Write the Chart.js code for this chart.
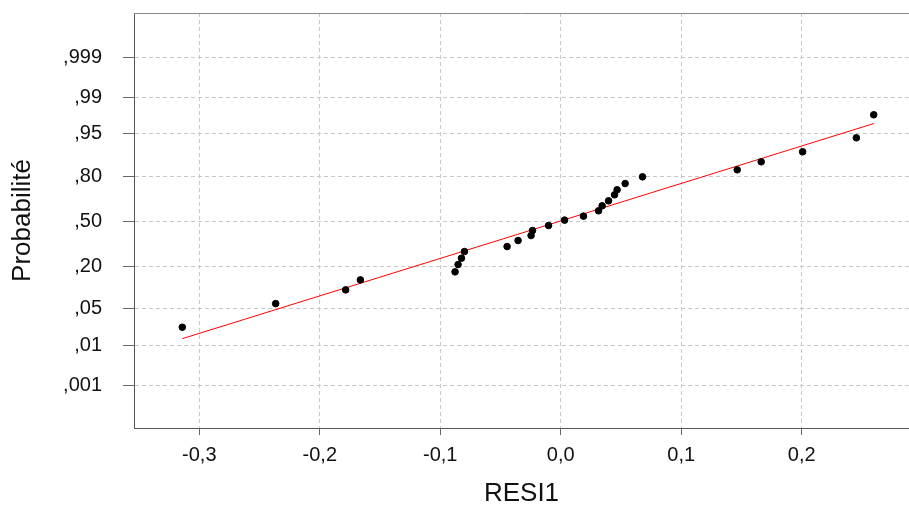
<!DOCTYPE html>
<html>
<head>
<meta charset="utf-8">
<script src="https://cdn.jsdelivr.net/npm/chart.js@4"></script>
<style>
  html, body { margin: 0; padding: 0; background: #fff; }
  #wrap { width: 909px; height: 505px; }
</style>
</head>
<body>
<div id="wrap"><canvas id="probPlot" width="909" height="505"></canvas></div>
<script>
// residuals (x) and their normal scores (y, in z units)
const resi = [-0.3141, -0.2366, -0.1785, -0.1663, -0.0877, -0.0852, -0.0824, -0.0799, -0.0445,
  -0.0354, -0.0246, -0.0234, -0.0101, 0.0032, 0.0189, 0.0314, 0.0344, 0.0397, 0.0447,
  0.0468, 0.0535, 0.0679, 0.1465, 0.1664, 0.2008, 0.2454, 0.2598];
const score = [-1.991, -1.547, -1.289, -1.101, -0.950, -0.813, -0.693, -0.568, -0.474,
  -0.361, -0.267, -0.173, -0.079, 0.023, 0.098, 0.198, 0.292, 0.386, 0.499,
  0.593, 0.711, 0.837, 0.969, 1.120, 1.308, 1.571, 2.004];

// fitted reference line
const fitX = [-0.3141, 0.2600];
const fitZ = [-2.206, 1.840];

// probability axis: labels and their z positions
const probLabels = [",001", ",01", ",05", ",20", ",50", ",80", ",95", ",99", ",999"];
const probZ = [-3.090, -2.326, -1.645, -0.8416, 0, 0.8416, 1.645, 2.326, 3.090];

const xTicks = [-0.3, -0.2, -0.1, 0.0, 0.1, 0.2];

const font = "'Liberation Sans', Arial, sans-serif";

// top edge of the frame
const frameTop = {
  id: "frameTop",
  afterDraw(chart) {
    const { ctx, chartArea } = chart;
    ctx.save();
    ctx.strokeStyle = "#888";
    ctx.lineWidth = 1;
    ctx.beginPath();
    ctx.moveTo(chartArea.left, chartArea.top + 0.5);
    ctx.lineTo(chartArea.right, chartArea.top + 0.5);
    ctx.stroke();
    ctx.restore();
  }
};

new Chart(document.getElementById("probPlot"), {
  type: "scatter",
  data: {
    datasets: [
      {
        label: "RESI1",
        data: resi.map((x, i) => ({ x, y: score[i] })),
        backgroundColor: "#000",
        borderColor: "#000",
        pointRadius: 3.3,
        pointHoverRadius: 3.3
      },
      {
        label: "fit",
        type: "line",
        data: fitX.map((x, i) => ({ x, y: fitZ[i] })),
        borderColor: "#ff0000",
        borderWidth: 1,
        pointRadius: 0,
        fill: false
      }
    ]
  },
  options: {
    responsive: false,
    animation: false,
    layout: { autoPadding: false, padding: { top: 13, right: 0, left: 0, bottom: 0 } },
    plugins: { legend: { display: false }, tooltip: { enabled: false } },
    scales: {
      x: {
        type: "linear",
        min: -0.3542,
        max: 0.2891,
        afterFit: s => { s.height = 77; s.paddingLeft = 0; s.paddingRight = 0; },
        afterBuildTicks: s => { s.ticks = xTicks.map(v => ({ value: v })); },
        ticks: {
          color: "#111",
          font: { family: font, size: 20 },
          padding: 8,
          callback: v => v.toFixed(1).replace(".", ",")
        },
        grid: {
          color: "#c8c8c8",
          tickLength: 7,
          tickColor: "#666",
          tickBorderDash: []
        },
        border: { color: "#555", dash: [4, 3] },
        title: {
          display: true,
          text: "RESI1",
          color: "#111",
          font: { family: font, size: 26, lineHeight: 1 },
          padding: { top: 0, bottom: -2 }
        }
      },
      y: {
        type: "linear",
        min: -3.886,
        max: 3.918,
        afterFit: s => { s.width = 134; s.paddingTop = 0; s.paddingBottom = 0; },
        afterBuildTicks: s => { s.ticks = probZ.map(v => ({ value: v })); },
        ticks: {
          color: "#111",
          font: { family: font, size: 20 },
          padding: 21,
          callback: (v, i) => probLabels[i]
        },
        grid: {
          color: "#c8c8c8",
          tickLength: 11,
          tickColor: "#666",
          tickBorderDash: []
        },
        border: { color: "#555", dash: [4, 3] },
        title: {
          display: true,
          text: "Probabilité",
          color: "#111",
          font: { family: font, size: 26, lineHeight: 1 },
          padding: { top: 10, bottom: 0 }
        }
      }
    }
  },
  plugins: [frameTop]
});
</script>
</body>
</html>
